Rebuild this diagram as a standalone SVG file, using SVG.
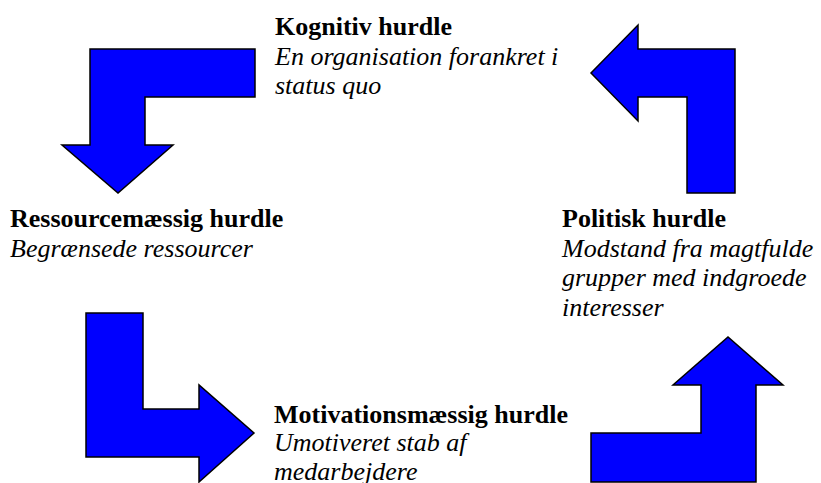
<svg xmlns="http://www.w3.org/2000/svg" width="821" height="483" viewBox="0 0 821 483">
  <style>
    .arrow { fill: #0000ff; stroke: #000000; stroke-width: 1.5; stroke-linejoin: miter; }
    .title { font-family: "Liberation Serif", "Times New Roman", serif; font-size: 26px; font-weight: bold; fill: #000000; }
    .desc { font-family: "Liberation Serif", "Times New Roman", serif; font-size: 26px; font-style: italic; fill: #000000; }
  </style>
  <rect x="0" y="0" width="821" height="483" fill="#ffffff"/>

  <!-- connectors: four bent block arrows forming a cycle -->
  <g id="connectors">
    <path class="arrow" d="M90,49 L255,49 L255,97 L145,97 L145,145 L173,145 L118,193 L62,145 L90,145 Z"/>
    <path class="arrow" d="M86,313 L143,313 L143,409 L199,409 L199,385 L254,433 L199,482 L199,457 L86,457 Z"/>
    <path class="arrow" d="M591,433 L701,433 L701,385 L673,385 L728,337 L783,385 L756,385 L756,482 L591,482 Z"/>
    <path class="arrow" d="M735,49 L735,193 L687,193 L687,97 L638,97 L638,121 L591,73 L638,25 L638,49 Z"/>
  </g>

  <g id="kognitiv">
    <text class="title" x="275" y="35">Kognitiv hurdle</text>
    <text class="desc" x="275" y="64.5">En organisation forankret i</text>
    <text class="desc" x="275" y="94">status quo</text>
  </g>

  <g id="ressource">
    <text class="title" x="10" y="227">Ressourcemæssig hurdle</text>
    <text class="desc" x="10" y="256.5">Begrænsede ressourcer</text>
  </g>

  <g id="politisk">
    <text class="title" x="562" y="227">Politisk hurdle</text>
    <text class="desc" x="562" y="256.5">Modstand fra magtfulde</text>
    <text class="desc" x="562" y="286">grupper med indgroede</text>
    <text class="desc" x="562" y="315.5">interesser</text>
  </g>

  <g id="motivation">
    <text class="title" x="274" y="423">Motivationsmæssig hurdle</text>
    <text class="desc" x="274" y="451">Umotiveret stab af</text>
    <text class="desc" x="274" y="479.5">medarbejdere</text>
  </g>
</svg>
